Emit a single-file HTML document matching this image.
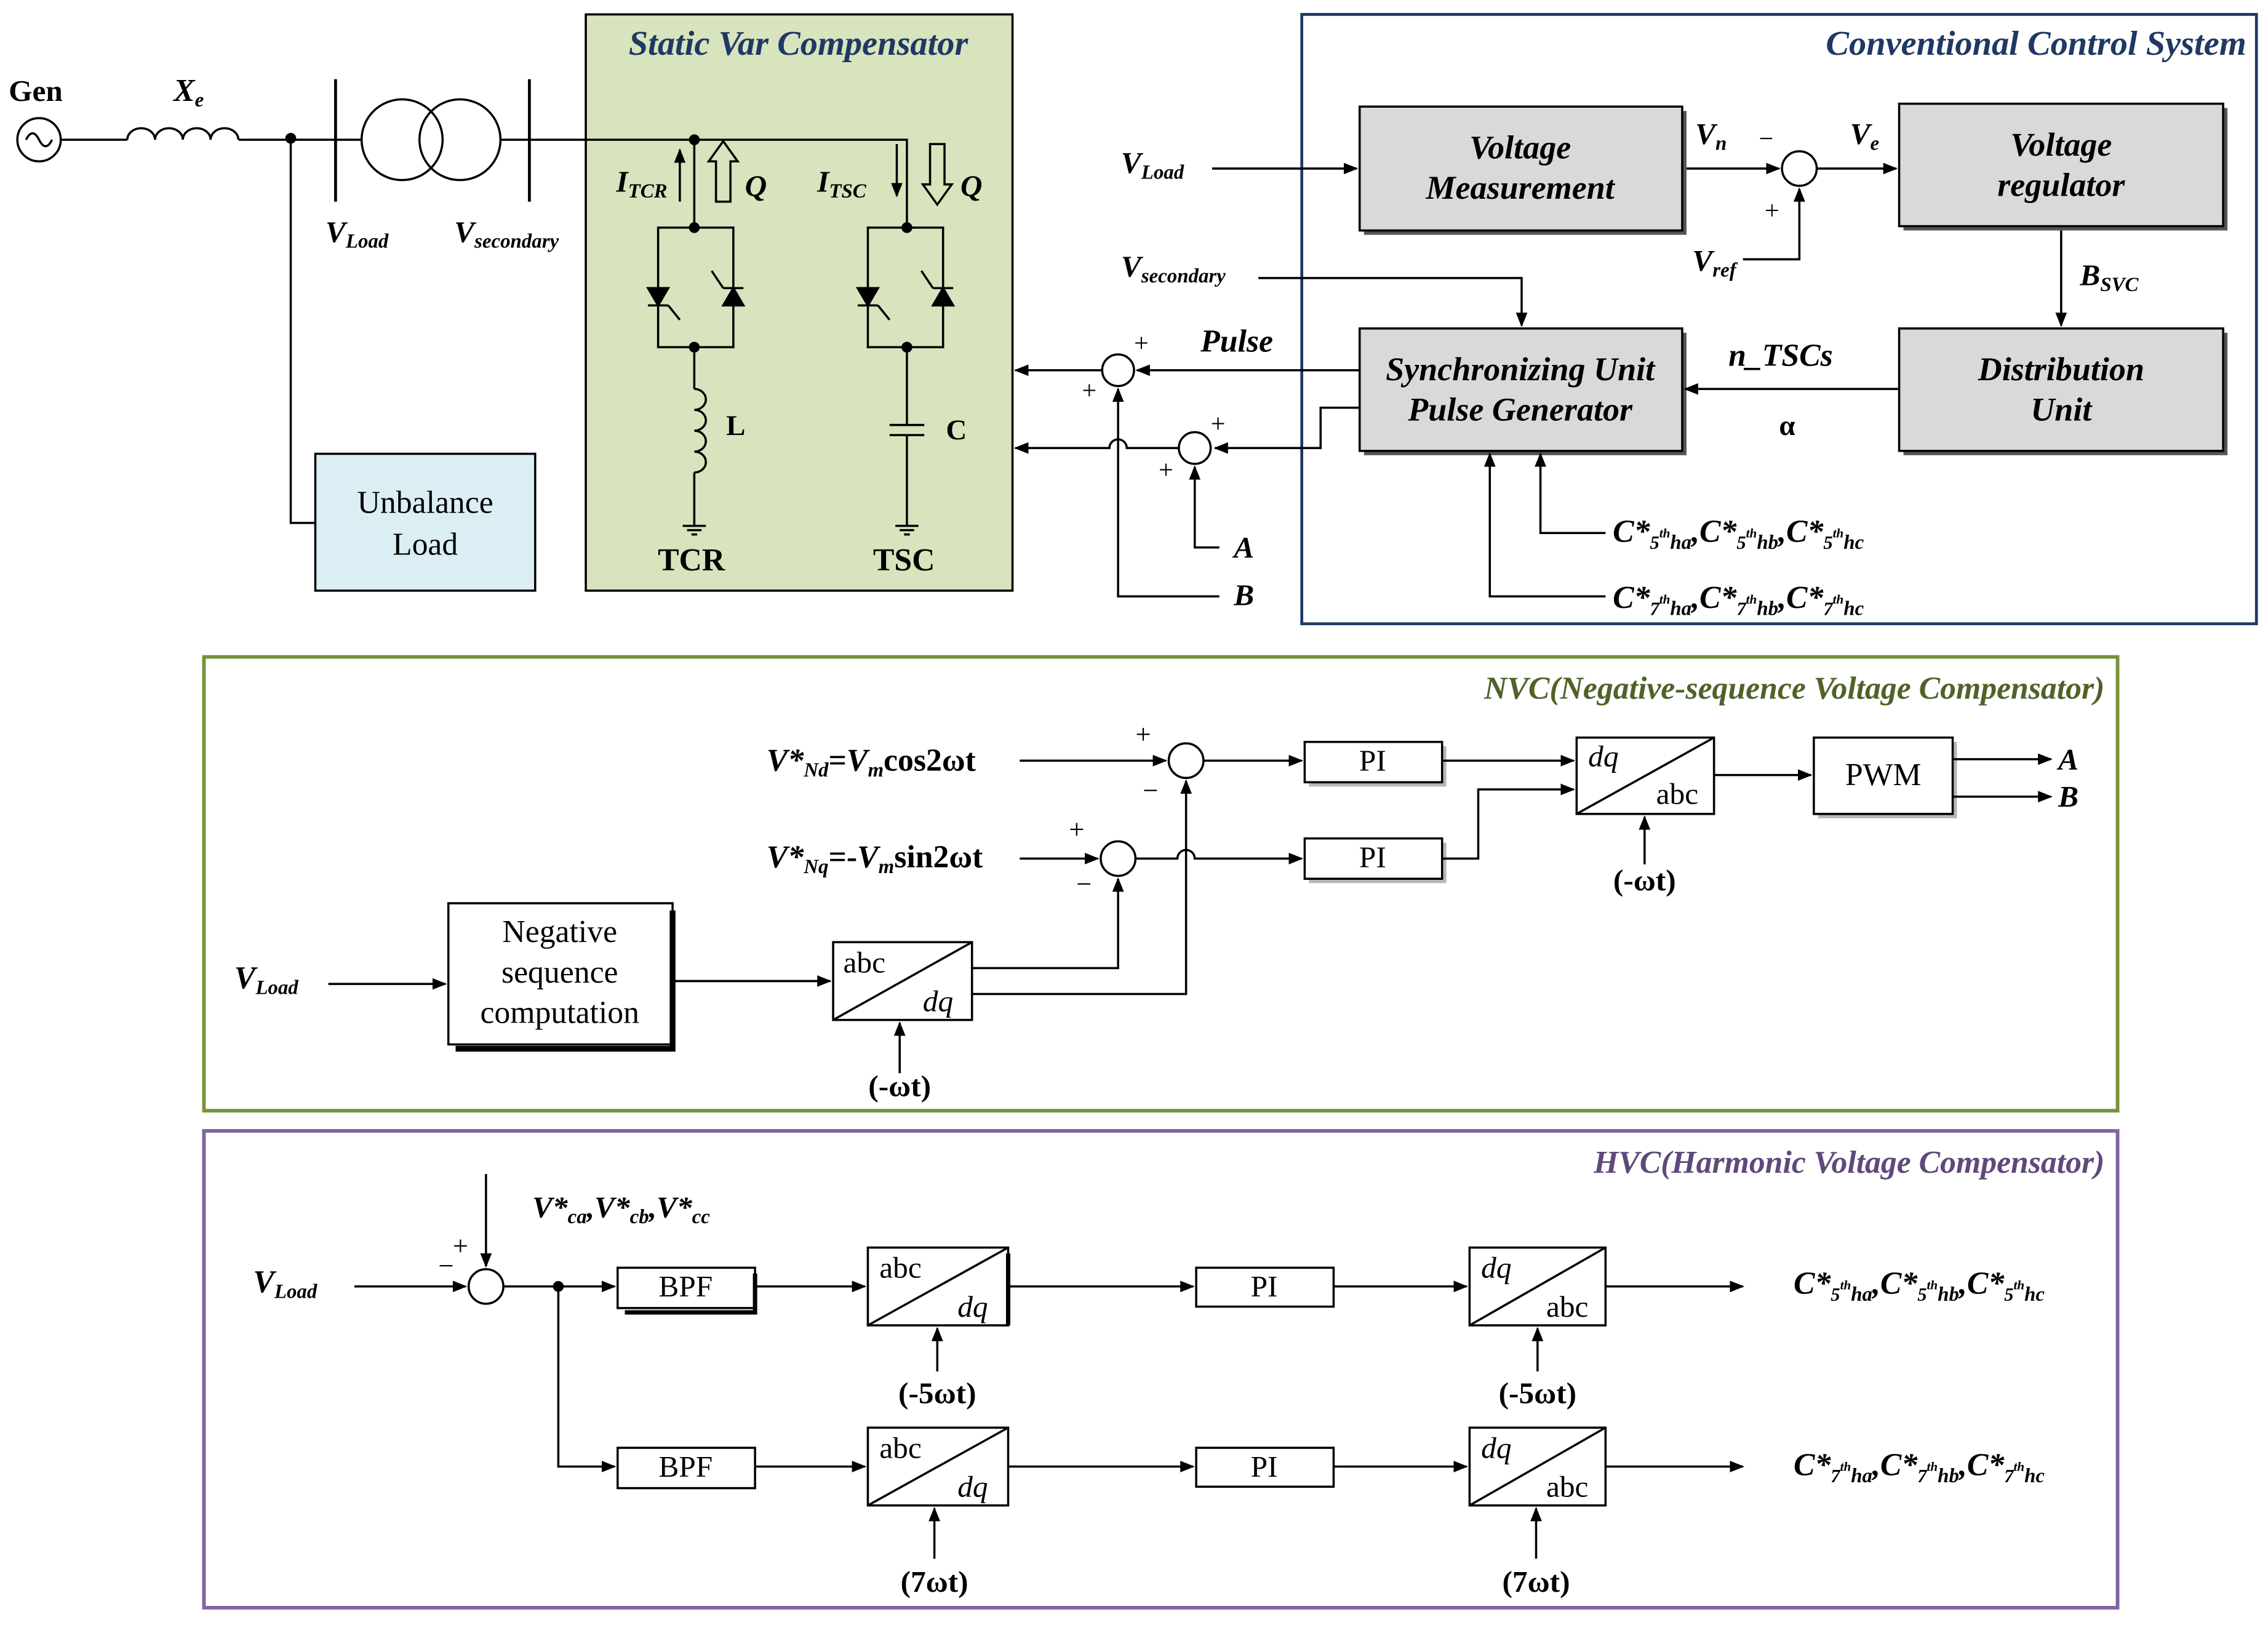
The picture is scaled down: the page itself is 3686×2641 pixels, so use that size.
<!DOCTYPE html>
<html><head><meta charset="utf-8"><style>
html,body{margin:0;padding:0;background:#fff}
svg{display:block}
text{font-family:"Liberation Serif",serif;fill:#000}
.bi{font-weight:bold;font-style:italic}
.b{font-weight:bold}
</style></head><body>
<svg width="3686" height="2641" viewBox="0 0 1568 1128" preserveAspectRatio="none" xmlns="http://www.w3.org/2000/svg">
<defs>
<marker id="a" markerWidth="10" markerHeight="8" refX="9" refY="4" orient="auto" markerUnits="userSpaceOnUse"><path d="M0,0 L10,4 L0,8 Z" fill="#000"/></marker>
<filter id="sh"><feOffset dx="3" dy="3"/></filter>
</defs>
<g stroke="#000" stroke-width="1.5" fill="none">
<rect x="405" y="10" width="295" height="400" fill="#d7e4bd" stroke="#000"/>
<rect x="218" y="315" width="152" height="95" fill="#dbeef4" stroke="#000"/>
<rect x="900" y="10" width="660" height="423" stroke="#1f3864" stroke-width="2"/>
<rect x="141" y="456" width="1323" height="315" stroke="#77933c" stroke-width="2.5"/>
<rect x="141" y="785" width="1323" height="331" stroke="#8064a2" stroke-width="2.5"/>

<circle cx="27" cy="97" r="15"/>
<path d="M18,97 Q22.5,88 27,97 T36,97"/>
<path d="M42,97 H88"/>
<path d="M88,97 a9.6,8 0 0 1 19.2,0 a9.6,8 0 0 1 19.2,0 a9.6,8 0 0 1 19.2,0 a9.6,8 0 0 1 19.2,0"/>
<path d="M165,97 H232"/>
<circle cx="201" cy="96" r="3" fill="#000"/>
<path d="M201,96 V363 H218"/>
<path d="M232,55 V140 M366,55 V140" stroke-width="2"/>
<path d="M232,97 H250 M346,97 H366"/>
<circle cx="278" cy="97" r="28"/><circle cx="318" cy="97" r="28"/>
<path d="M366,97 H627 V158"/>
<circle cx="480" cy="97" r="3" fill="#000"/>
<path d="M480,97 V158"/>
<circle cx="480" cy="158" r="3" fill="#000"/>
<rect x="455" y="158" width="52" height="83"/>
<path d="M448,200 H462 L455,212 Z" fill="#000"/><path d="M448,212 H462"/>
<path d="M500,212 H514 L507,200 Z" fill="#000"/><path d="M500,200 H514"/>
<path d="M462,212 l8,10 M500,200 l-8,-12"/>
<circle cx="480" cy="241" r="3" fill="#000"/>
<path d="M480,241 V270"/>
<path d="M480,270 a8,7.25 0 0 1 0,14.5 a8,7.25 0 0 1 0,14.5 a8,7.25 0 0 1 0,14.5 a8,7.25 0 0 1 0,14.5"/>
<path d="M480,328 V365 M472,365 H488 M475,368 H485 M478,371 H482"/>
<path d="M470,140 V104" marker-end="url(#a)"/>
<path d="M495,140 V112 H490 L500,98 L510,112 H505 V140 Z"/>
<circle cx="627" cy="158" r="3" fill="#000"/>
<rect x="600" y="158" width="52" height="83"/>
<path d="M593,200 H607 L600,212 Z" fill="#000"/><path d="M593,212 H607"/>
<path d="M645,212 H659 L652,200 Z" fill="#000"/><path d="M645,200 H659"/>
<path d="M607,212 l8,10 M645,200 l-8,-12"/>
<circle cx="627" cy="241" r="3" fill="#000"/>
<path d="M627,241 V295 M615,295 H639 M615,302 H639 M627,302 V365 M619,365 H635 M622,368 H632 M625,371 H629"/>
<path d="M620,100 V136" marker-end="url(#a)"/>
<path d="M643,100 V128 H638 L648,142 L658,128 H653 V100 Z"/>

<g filter="url(#sh)"><rect x="940" y="74" width="223" height="86" fill="#555" stroke="none"/><rect x="1313" y="72" width="224" height="85" fill="#555" stroke="none"/><rect x="1313" y="228" width="224" height="85" fill="#555" stroke="none"/><rect x="940" y="228" width="223" height="85" fill="#555" stroke="none"/></g>
<rect x="940" y="74" width="223" height="86" fill="#d9d9d9"/>
<rect x="1313" y="72" width="224" height="85" fill="#d9d9d9"/>
<rect x="1313" y="228" width="224" height="85" fill="#d9d9d9"/>
<rect x="940" y="228" width="223" height="85" fill="#d9d9d9"/>
<path d="M838,117 H938" marker-end="url(#a)"/>
<path d="M1166,117 H1230" marker-end="url(#a)"/>
<circle cx="1244" cy="117" r="12"/>
<path d="M1256,117 H1311" marker-end="url(#a)"/>
<path d="M1205,180 H1244 V131" marker-end="url(#a)"/>
<path d="M1425,160 V226" marker-end="url(#a)"/>
<path d="M1313,270 H1165" marker-end="url(#a)"/>
<path d="M870,193 H1052 V226" marker-end="url(#a)"/>
<path d="M940,257 H786" marker-end="url(#a)"/>
<circle cx="773" cy="257" r="11"/>
<path d="M762,257 H702" marker-end="url(#a)"/>
<path d="M940,283 H913 V311 H840" marker-end="url(#a)"/>
<circle cx="826" cy="311" r="11"/>
<path d="M815,311 H779 a6,6 0 0 0 -12,0 H702" marker-end="url(#a)"/>
<path d="M843,380 H826 V324" marker-end="url(#a)"/>
<path d="M843,414 H773 V270" marker-end="url(#a)"/>
<path d="M1110,370 H1065 V315" marker-end="url(#a)"/>
<path d="M1110,414 H1030 V315" marker-end="url(#a)"/>

<g filter="url(#sh)" opacity="0.6"><rect x="902" y="515" width="95" height="28" fill="#888" stroke="none"/><rect x="902" y="582" width="95" height="28" fill="#888" stroke="none"/><rect x="1254" y="512" width="96" height="53" fill="#888" stroke="none"/></g>
<rect x="310" y="627" width="155" height="98" fill="#fff"/>
<path d="M465,632 V728 H315" stroke-width="4"/>
<path d="M705,528 H806" marker-end="url(#a)"/>
<circle cx="820" cy="528" r="12"/>
<path d="M832,528 H900" marker-end="url(#a)"/>
<rect x="902" y="515" width="95" height="28" fill="#fff"/>
<path d="M997,528 H1088" marker-end="url(#a)"/>
<rect x="1090" y="512" width="95" height="53" fill="#fff"/><path d="M1090,565 L1185,512"/>
<path d="M1185,538 H1252" marker-end="url(#a)"/>
<rect x="1254" y="512" width="96" height="53" fill="#fff"/>
<path d="M1350,527 H1418" marker-end="url(#a)"/>
<path d="M1350,553 H1418" marker-end="url(#a)"/>
<path d="M705,596 H759" marker-end="url(#a)"/>
<circle cx="773" cy="596" r="12"/>
<path d="M785,596 H814 a6,6 0 0 1 12,0 H900" marker-end="url(#a)"/>
<rect x="902" y="582" width="95" height="28" fill="#fff"/>
<path d="M997,596 H1022 V548 H1088" marker-end="url(#a)"/>
<path d="M1137,600 V567" marker-end="url(#a)"/>
<path d="M227,683 H308" marker-end="url(#a)"/>
<path d="M465,681 H574" marker-end="url(#a)"/>
<rect x="576" y="654" width="96" height="54" fill="#fff"/><path d="M576,708 L672,654"/>
<path d="M672,672 H773 V610" marker-end="url(#a)"/>
<path d="M672,690 H820 V542" marker-end="url(#a)"/>
<path d="M622,745 V710" marker-end="url(#a)"/>

<path d="M245,893 H322" marker-end="url(#a)"/>
<path d="M336,815 V879" marker-end="url(#a)"/>
<circle cx="336" cy="893" r="12"/>
<path d="M348,893 H425" marker-end="url(#a)"/>
<circle cx="386" cy="893" r="3" fill="#000"/>
<path d="M386,893 V1018 H425" marker-end="url(#a)"/>
<rect x="427" y="880" width="95" height="28" fill="#fff"/><path d="M522,884 V911 H432" stroke-width="3"/>
<rect x="427" y="1005" width="95" height="28" fill="#fff"/>
<path d="M522,893 H598" marker-end="url(#a)"/>
<path d="M522,1018 H598" marker-end="url(#a)"/>
<rect x="600" y="866" width="97" height="54" fill="#fff"/><path d="M600,920 L697,866"/><path d="M697,870 V920" stroke-width="3"/>
<rect x="600" y="991" width="97" height="54" fill="#fff"/><path d="M600,1045 L697,991"/>
<path d="M697,893 H825" marker-end="url(#a)"/>
<path d="M697,1018 H825" marker-end="url(#a)"/>
<rect x="827" y="880" width="95" height="27" fill="#fff"/>
<rect x="827" y="1005" width="95" height="27" fill="#fff"/>
<path d="M922,893 H1014" marker-end="url(#a)"/>
<path d="M922,1018 H1014" marker-end="url(#a)"/>
<rect x="1016" y="866" width="94" height="54" fill="#fff"/><path d="M1016,920 L1110,866"/>
<rect x="1016" y="991" width="94" height="54" fill="#fff"/><path d="M1016,1045 L1110,991"/>
<path d="M1110,893 H1205" marker-end="url(#a)"/>
<path d="M1110,1018 H1205" marker-end="url(#a)"/>
<path d="M648,952 V922" marker-end="url(#a)"/>
<path d="M1063,952 V922" marker-end="url(#a)"/>
<path d="M646,1082 V1047" marker-end="url(#a)"/>
<path d="M1062,1082 V1047" marker-end="url(#a)"/>
</g>

<text x="6" y="70" font-size="21" class="b">Gen</text>
<text x="120" y="70" font-size="22" class="bi">X<tspan font-size="14" dy="4">e</tspan></text>
<text x="225" y="168" font-size="21" class="bi">V<tspan font-size="14" dy="4">Load</tspan></text>
<text x="314" y="168" font-size="21" class="bi">V<tspan font-size="14" dy="4">secondary</tspan></text>
<text x="294" y="356" font-size="22" text-anchor="middle">Unbalance</text>
<text x="294" y="385" font-size="22" text-anchor="middle">Load</text>
<text x="552" y="38" font-size="24" class="bi" text-anchor="middle" style="fill:#1f3864">Static Var Compensator</text>
<text x="426" y="133" font-size="21" class="bi">I<tspan font-size="14" dy="4">TCR</tspan></text>
<text x="515" y="136" font-size="21" class="bi">Q</text>
<text x="565" y="133" font-size="21" class="bi">I<tspan font-size="14" dy="4">TSC</tspan></text>
<text x="664" y="136" font-size="21" class="bi">Q</text>
<text x="502" y="302" font-size="20" class="b">L</text>
<text x="654" y="305" font-size="20" class="b">C</text>
<text x="478" y="396" font-size="22" class="b" text-anchor="middle">TCR</text>
<text x="625" y="396" font-size="22" class="b" text-anchor="middle">TSC</text>
<text x="1553" y="38" font-size="24" class="bi" text-anchor="end" style="fill:#1f3864">Conventional Control System</text>
<text x="1051" y="110" font-size="23" class="bi" text-anchor="middle">Voltage</text>
<text x="1051" y="138" font-size="23" class="bi" text-anchor="middle">Measurement</text>
<text x="1425" y="108" font-size="23" class="bi" text-anchor="middle">Voltage</text>
<text x="1425" y="136" font-size="23" class="bi" text-anchor="middle">regulator</text>
<text x="1425" y="264" font-size="23" class="bi" text-anchor="middle">Distribution</text>
<text x="1425" y="292" font-size="23" class="bi" text-anchor="middle">Unit</text>
<text x="1051" y="264" font-size="23" class="bi" text-anchor="middle">Synchronizing Unit</text>
<text x="1051" y="292" font-size="23" class="bi" text-anchor="middle">Pulse Generator</text>
<text x="775" y="120" font-size="21" class="bi">V<tspan font-size="14" dy="4">Load</tspan></text>
<text x="775" y="192" font-size="21" class="bi">V<tspan font-size="14" dy="4">secondary</tspan></text>
<text x="1172" y="100" font-size="21" class="bi">V<tspan font-size="14" dy="4">n</tspan></text>
<text x="1216" y="102" font-size="18">−</text>
<text x="1279" y="100" font-size="21" class="bi">V<tspan font-size="14" dy="4">e</tspan></text>
<text x="1220" y="152" font-size="18">+</text>
<text x="1170" y="188" font-size="21" class="bi">V<tspan font-size="14" dy="4">ref</tspan></text>
<text x="1438" y="198" font-size="21" class="bi">B<tspan font-size="14" dy="4">SVC</tspan></text>
<text x="1195" y="254" font-size="22" class="bi">n_TSCs</text>
<text x="1230" y="302" font-size="20" class="b">α</text>
<text x="830" y="244" font-size="22" class="bi">Pulse</text>
<text x="784" y="244" font-size="18">+</text>
<text x="748" y="277" font-size="18">+</text>
<text x="837" y="300" font-size="18">+</text>
<text x="801" y="332" font-size="18">+</text>
<text x="853" y="387" font-size="21" class="bi">A</text>
<text x="853" y="420" font-size="21" class="bi">B</text>
<text x="1115" y="376" font-size="22" class="bi">C*<tspan font-size="13" dy="5">5</tspan><tspan font-size="9" dy="-8">th</tspan><tspan font-size="14" dy="8">ha</tspan><tspan dy="-5">,C*</tspan><tspan font-size="13" dy="5">5</tspan><tspan font-size="9" dy="-8">th</tspan><tspan font-size="14" dy="8">hb</tspan><tspan dy="-5">,C*</tspan><tspan font-size="13" dy="5">5</tspan><tspan font-size="9" dy="-8">th</tspan><tspan font-size="14" dy="8">hc</tspan></text>
<text x="1115" y="422" font-size="22" class="bi">C*<tspan font-size="13" dy="5">7</tspan><tspan font-size="9" dy="-8">th</tspan><tspan font-size="14" dy="8">ha</tspan><tspan dy="-5">,C*</tspan><tspan font-size="13" dy="5">7</tspan><tspan font-size="9" dy="-8">th</tspan><tspan font-size="14" dy="8">hb</tspan><tspan dy="-5">,C*</tspan><tspan font-size="13" dy="5">7</tspan><tspan font-size="9" dy="-8">th</tspan><tspan font-size="14" dy="8">hc</tspan></text>

<text x="1455" y="485" font-size="22" class="bi" text-anchor="end" style="fill:#4f6228">NVC(Negative-sequence Voltage Compensator)</text>
<text x="530" y="535" font-size="22" class="bi">V*<tspan font-size="14" dy="4">Nd</tspan><tspan dy="-4" font-style="normal">=</tspan>V<tspan font-size="14" dy="4">m</tspan><tspan dy="-4" font-style="normal">cos2ωt</tspan></text>
<text x="530" y="602" font-size="22" class="bi">V*<tspan font-size="14" dy="4">Nq</tspan><tspan dy="-4" font-style="normal">=-</tspan>V<tspan font-size="14" dy="4">m</tspan><tspan dy="-4" font-style="normal">sin2ωt</tspan></text>
<text x="785" y="516" font-size="19">+</text>
<text x="790" y="555" font-size="19">−</text>
<text x="739" y="582" font-size="19">+</text>
<text x="744" y="620" font-size="19">−</text>
<text x="949" y="535" font-size="21" text-anchor="middle">PI</text>
<text x="949" y="602" font-size="21" text-anchor="middle">PI</text>
<text x="1098" y="532" font-size="21" font-style="italic">dq</text>
<text x="1145" y="558" font-size="21">abc</text>
<text x="1302" y="545" font-size="22" text-anchor="middle">PWM</text>
<text x="1423" y="534" font-size="21" class="bi">A</text>
<text x="1423" y="560" font-size="21" class="bi">B</text>
<text x="1137" y="618" font-size="21" class="b" text-anchor="middle">(-ωt)</text>
<text x="162" y="686" font-size="22" class="bi">V<tspan font-size="14" dy="4">Load</tspan></text>
<text x="387" y="654" font-size="22" text-anchor="middle">Negative</text>
<text x="387" y="682" font-size="22" text-anchor="middle">sequence</text>
<text x="387" y="710" font-size="22" text-anchor="middle">computation</text>
<text x="583" y="675" font-size="21">abc</text>
<text x="638" y="702" font-size="21" font-style="italic">dq</text>
<text x="622" y="761" font-size="21" class="b" text-anchor="middle">(-ωt)</text>

<text x="1455" y="814" font-size="22" class="bi" text-anchor="end" style="fill:#5f497a">HVC(Harmonic Voltage Compensator)</text>
<text x="368" y="845" font-size="21" class="bi">V*<tspan font-size="14" dy="4">ca</tspan><tspan dy="-4">,V*</tspan><tspan font-size="14" dy="4">cb</tspan><tspan dy="-4">,V*</tspan><tspan font-size="14" dy="4">cc</tspan></text>
<text x="175" y="897" font-size="22" class="bi">V<tspan font-size="14" dy="4">Load</tspan></text>
<text x="313" y="871" font-size="19">+</text>
<text x="303" y="885" font-size="19">−</text>
<text x="474" y="900" font-size="21" text-anchor="middle">BPF</text>
<text x="474" y="1025" font-size="21" text-anchor="middle">BPF</text>
<text x="608" y="887" font-size="21">abc</text>
<text x="662" y="914" font-size="21" font-style="italic">dq</text>
<text x="608" y="1012" font-size="21">abc</text>
<text x="662" y="1039" font-size="21" font-style="italic">dq</text>
<text x="874" y="900" font-size="21" text-anchor="middle">PI</text>
<text x="874" y="1025" font-size="21" text-anchor="middle">PI</text>
<text x="1024" y="887" font-size="21" font-style="italic">dq</text>
<text x="1069" y="914" font-size="21">abc</text>
<text x="1024" y="1012" font-size="21" font-style="italic">dq</text>
<text x="1069" y="1039" font-size="21">abc</text>
<text x="648" y="974" font-size="21" class="b" text-anchor="middle">(-5ωt)</text>
<text x="1063" y="974" font-size="21" class="b" text-anchor="middle">(-5ωt)</text>
<text x="646" y="1105" font-size="21" class="b" text-anchor="middle">(7ωt)</text>
<text x="1062" y="1105" font-size="21" class="b" text-anchor="middle">(7ωt)</text>
<text x="1240" y="898" font-size="22" class="bi">C*<tspan font-size="13" dy="5">5</tspan><tspan font-size="9" dy="-8">th</tspan><tspan font-size="14" dy="8">ha</tspan><tspan dy="-5">,C*</tspan><tspan font-size="13" dy="5">5</tspan><tspan font-size="9" dy="-8">th</tspan><tspan font-size="14" dy="8">hb</tspan><tspan dy="-5">,C*</tspan><tspan font-size="13" dy="5">5</tspan><tspan font-size="9" dy="-8">th</tspan><tspan font-size="14" dy="8">hc</tspan></text>
<text x="1240" y="1024" font-size="22" class="bi">C*<tspan font-size="13" dy="5">7</tspan><tspan font-size="9" dy="-8">th</tspan><tspan font-size="14" dy="8">ha</tspan><tspan dy="-5">,C*</tspan><tspan font-size="13" dy="5">7</tspan><tspan font-size="9" dy="-8">th</tspan><tspan font-size="14" dy="8">hb</tspan><tspan dy="-5">,C*</tspan><tspan font-size="13" dy="5">7</tspan><tspan font-size="9" dy="-8">th</tspan><tspan font-size="14" dy="8">hc</tspan></text>
</svg>
</body></html>
